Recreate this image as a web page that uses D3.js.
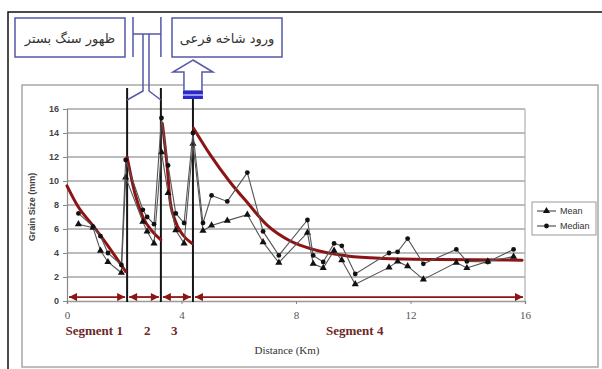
<!DOCTYPE html>
<html>
<head>
<meta charset="utf-8">
<script src="https://cdn.jsdelivr.net/npm/d3@7"></script>
<style>
  body { margin: 0; background: #fff; }
  svg { display: block; }
</style>
</head>
<body>
<svg id="chart" width="602" height="369"></svg>
<script>
// distance along the river (km) for every sample
const distance = [0.4, 0.91, 1.17, 1.43, 1.9, 2.05, 2.65, 2.8, 3.04, 3.3, 3.53, 3.8, 4.09, 4.4,
  4.75, 5.05, 5.6, 6.3, 6.85, 7.4, 8.4, 8.6, 8.95, 9.33, 9.6, 10.07, 11.25, 11.55, 11.9,
  12.45, 13.6, 13.97, 14.7, 15.6];
const meanSize = [6.4, 6.1, 4.2, 3.25, 2.35, 10.3, 6.6, 5.8, 4.8, 12.4, 9.0, 5.9, 4.8, 13.1,
  5.85, 6.3, 6.7, 7.2, 4.9, 3.2, 5.7, 3.1, 2.75, 4.2, 3.4, 1.4, 2.8, 3.3, 2.9,
  1.8, 3.2, 2.75, 3.3, 3.7];
const medianSize = [7.3, 6.2, 5.4, 4.0, 3.0, 11.75, 7.6, 7.0, 6.4, 15.25, 11.3, 7.3, 6.5, 14.0,
  6.5, 8.8, 8.3, 10.7, 5.8, 3.8, 6.75, 3.8, 3.25, 4.8, 4.6, 2.25, 4.0, 4.1, 5.2,
  3.1, 4.3, 3.3, 3.25, 4.3];

// fining trends drawn per segment [km, mm]
const trend1 = [[0, 9.6], [0.38, 7.9], [0.9, 6.3], [1.43, 4.6], [2.05, 2.45]];
const trend2 = [[2.1, 12.0], [2.37, 9.0], [2.65, 7.0], [3.0, 5.75], [3.28, 5.1]];
const trend3 = [[3.33, 14.8], [3.5, 11.2], [3.6, 8.4], [3.77, 6.75], [4.05, 5.5], [4.37, 4.8]];
const trend4 = [[4.42, 14.4], [5.0, 12.2], [5.7, 9.9], [6.3, 8.2], [7.0, 6.3], [7.8, 5.0],
  [8.6, 4.3], [9.8, 3.75], [11.0, 3.55], [13.0, 3.45], [15.9, 3.4]];

const segBounds = [0, 2.1, 3.28, 4.4, 16];
const segLabels = [["Segment 1", 0.95], ["2", 2.8], ["3", 3.75], ["Segment 4", 10.05]];
const xTicks = [0, 4, 8, 12, 16];
const yTicks = [0, 2, 4, 6, 8, 10, 12, 14, 16];
const noteLeft = "ظهور سنگ بستر";
const noteRight = "ورود شاخه فرعی";

const svg = d3.select("#chart");
const x = d3.scaleLinear().domain([0, 16]).range([67, 525]);
const y = d3.scaleLinear().domain([0, 16]).range([301, 109]);

const darkRed = "#8c1414";
const blue = "#5558a8";

// outer frame of the figure
svg.append("path")
  .attr("d", "M8,369 V12 H602")
  .attr("fill", "none").attr("stroke", "#111").attr("stroke-width", 1.5);

// inner chart frame
svg.append("rect")
  .attr("x", 22).attr("y", 85).attr("width", 576).attr("height", 282)
  .attr("fill", "none").attr("stroke", "#a8a8a8").attr("stroke-width", 1.5);

// gridlines
svg.append("g")
  .selectAll("line")
  .data(yTicks.slice(1))
  .enter().append("line")
  .attr("x1", x(0)).attr("x2", x(16))
  .attr("y1", d => y(d)).attr("y2", d => y(d))
  .attr("stroke", "#a6a6a6").attr("stroke-width", 1.5);

// right edge of plot area
svg.append("line")
  .attr("x1", x(16)).attr("x2", x(16)).attr("y1", y(16)).attr("y2", y(0))
  .attr("stroke", "#b0b0b0").attr("stroke-width", 1.2);

// y axis
const yAxis = svg.append("g")
  .attr("transform", "translate(" + x(0) + ",0)")
  .call(d3.axisLeft(y).tickValues(yTicks).tickSize(4).tickPadding(4).tickFormat(d3.format("d")));
yAxis.select(".domain").attr("stroke", "#888").attr("stroke-width", 1.2);
yAxis.selectAll(".tick line").attr("stroke", "#888");
yAxis.selectAll("text")
  .attr("font-family", "Liberation Sans, Arial, sans-serif")
  .attr("font-size", 9).attr("font-weight", "bold").attr("fill", "#444");

// x axis
const xAxis = svg.append("g")
  .attr("transform", "translate(0," + y(0) + ")")
  .call(d3.axisBottom(x).tickValues(xTicks).tickSize(3).tickPadding(7));
xAxis.select(".domain").attr("stroke", "#999").attr("stroke-width", 1.5);
xAxis.selectAll(".tick line").attr("stroke", "#888");
xAxis.selectAll("text")
  .attr("font-family", "Liberation Serif, Times New Roman, serif")
  .attr("font-size", 11).attr("fill", "#555");

// axis titles
svg.append("text")
  .attr("transform", "translate(35,207) rotate(-90)")
  .attr("text-anchor", "middle")
  .attr("font-family", "Liberation Sans, Arial, sans-serif")
  .attr("font-size", 9).attr("font-weight", "bold").attr("fill", "#444")
  .text("Grain Size (mm)");

svg.append("text")
  .attr("x", 287).attr("y", 354)
  .attr("text-anchor", "middle")
  .attr("font-family", "Liberation Serif, Times New Roman, serif")
  .attr("font-size", 11).attr("fill", "#333")
  .text("Distance (Km)");

// segment labels
svg.append("g")
  .selectAll("text")
  .data(segLabels)
  .enter().append("text")
  .attr("x", d => x(d[1])).attr("y", 335)
  .attr("text-anchor", "middle")
  .attr("font-family", "Liberation Serif, Times New Roman, serif")
  .attr("font-size", 13).attr("font-weight", "bold").attr("fill", "#6e2626")
  .text(d => d[0]);

// double-headed segment arrows
const defs = svg.append("defs");
defs.append("marker")
  .attr("id", "head")
  .attr("viewBox", "0 0 10 10")
  .attr("refX", 10).attr("refY", 5)
  .attr("markerUnits", "userSpaceOnUse")
  .attr("markerWidth", 9).attr("markerHeight", 8)
  .attr("orient", "auto-start-reverse")
  .append("path")
  .attr("d", "M0,0 L10,5 L0,10 Z")
  .attr("fill", darkRed);

const segPairs = d3.pairs(segBounds);
svg.append("g")
  .selectAll("line")
  .data(segPairs)
  .enter().append("line")
  .attr("x1", d => x(d[0]) + 2).attr("x2", d => x(d[1]) - 2)
  .attr("y1", y(0.33)).attr("y2", y(0.33))
  .attr("stroke", darkRed).attr("stroke-width", 1.8)
  .attr("marker-start", "url(#head)").attr("marker-end", "url(#head)");

// segment boundaries
svg.append("g")
  .selectAll("line")
  .data(segBounds.slice(1, 4))
  .enter().append("line")
  .attr("x1", d => x(d)).attr("x2", d => x(d))
  .attr("y1", 88).attr("y2", y(0) + 1)
  .attr("stroke", "#151515").attr("stroke-width", 2);

// trend curves
const trendLine = d3.line()
  .x(d => x(d[0])).y(d => y(d[1]))
  .curve(d3.curveMonotoneX);
svg.append("g")
  .selectAll("path")
  .data([trend1, trend2, trend3, trend4])
  .enter().append("path")
  .attr("d", trendLine)
  .attr("fill", "none").attr("stroke", darkRed).attr("stroke-width", 3)
  .attr("stroke-linecap", "round");

// data series
const series = [
  { name: "Mean", values: meanSize, symbol: d3.symbolTriangle, size: 22 },
  { name: "Median", values: medianSize, symbol: d3.symbolCircle, size: 18 }
];
const dataLine = d3.line()
  .x((d, i) => x(distance[i])).y(d => y(d));

series.forEach(function(s) {
  svg.append("path")
    .attr("d", dataLine(s.values))
    .attr("fill", "none").attr("stroke", "#555").attr("stroke-width", 1.1);
  svg.append("g")
    .selectAll("path")
    .data(s.values)
    .enter().append("path")
    .attr("transform", (d, i) => "translate(" + x(distance[i]) + "," + y(d) + ")")
    .attr("d", d3.symbol().type(s.symbol).size(s.size))
    .attr("fill", "#111");
});

// legend
const legend = svg.append("g").attr("transform", "translate(532,202)");
legend.append("rect")
  .attr("width", 64).attr("height", 33)
  .attr("fill", "#fff").attr("stroke", "#999").attr("stroke-width", 1);
legend.selectAll("g")
  .data(series)
  .enter().append("g")
  .attr("transform", (d, i) => "translate(0," + (9 + i * 15) + ")")
  .each(function(d) {
    const g = d3.select(this);
    g.append("line").attr("x1", 5).attr("x2", 24).attr("stroke", "#333").attr("stroke-width", 1);
    g.append("path").attr("transform", "translate(14.5,0)")
      .attr("d", d3.symbol().type(d.symbol).size(d.size)).attr("fill", "#111");
    g.append("text").attr("x", 28).attr("y", 3)
      .attr("font-family", "Liberation Sans, Arial, sans-serif")
      .attr("font-size", 9).attr("fill", "#333")
      .text(d.name);
  });

// annotation boxes
const notes = [[15, 18, 110, 39, noteLeft], [172, 18, 110, 39, noteRight]];
svg.append("g")
  .selectAll("g")
  .data(notes)
  .enter().append("g")
  .each(function(d) {
    const g = d3.select(this);
    g.append("rect").attr("x", d[0]).attr("y", d[1]).attr("width", d[2]).attr("height", d[3])
      .attr("fill", "#fff").attr("stroke", blue).attr("stroke-width", 1.5);
    g.append("text").attr("x", d[0] + d[2] / 2).attr("y", d[1] + d[3] / 2 + 5)
      .attr("text-anchor", "middle").attr("direction", "rtl")
      .attr("font-family", "DejaVu Sans, sans-serif")
      .attr("font-size", 13).attr("fill", "#333")
      .text(d[4]);
  });

// bracket (bedrock outcrop) joining two boundaries
const bx1 = x(segBounds[1]), bx2 = x(segBounds[2]);
svg.append("path")
  .attr("d", "M133,17 V57 M133,34 H" + bx2 + " M" + bx2 + ",17 V57" +
    " M143,34 V91 L" + bx1 + ",100 M149,34 V91 L" + bx2 + ",100")
  .attr("fill", "none").attr("stroke", blue).attr("stroke-width", 1.5);

// tributary inflow arrow
const ax = x(segBounds[3]);
svg.append("path")
  .attr("d", "M" + ax + ",60 L" + (ax + 20) + ",72 H" + (ax + 9) + " V91 H" + (ax - 9) +
    " V72 H" + (ax - 20) + " Z")
  .attr("fill", "#fff").attr("stroke", blue).attr("stroke-width", 1.5);
svg.append("rect")
  .attr("x", ax - 10).attr("y", 91).attr("width", 20).attr("height", 8)
  .attr("fill", "#2a2acc");
svg.append("line")
  .attr("x1", ax - 10).attr("x2", ax + 10).attr("y1", 95).attr("y2", 95)
  .attr("stroke", "#dfe0ff").attr("stroke-width", 1.2);
</script>
</body>
</html>
